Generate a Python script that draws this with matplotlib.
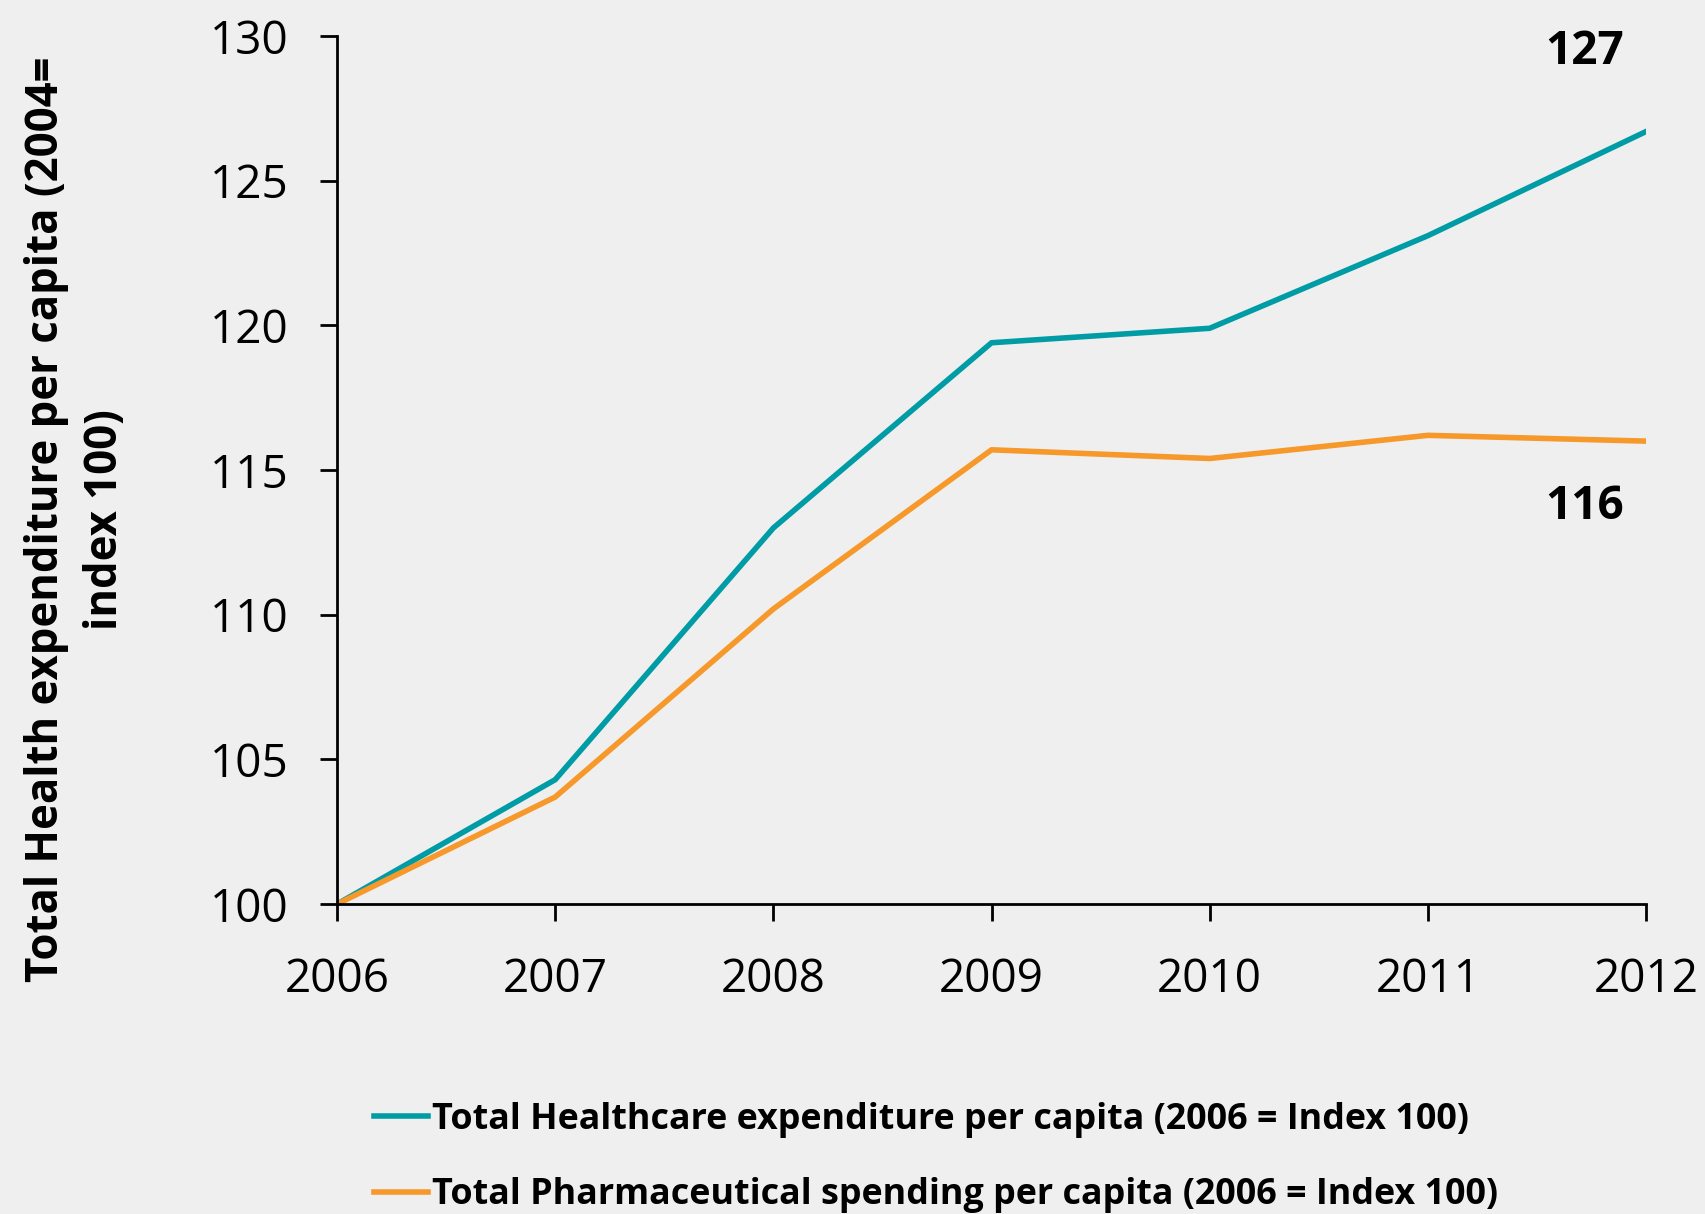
import matplotlib.pyplot as plt

years = [2006, 2007, 2008, 2009, 2010, 2011, 2012]
healthcare = [100, 104.3, 113.0, 119.4, 119.9, 123.1, 126.7]
pharma = [100, 103.7, 110.2, 115.7, 115.4, 116.2, 116.0]
labels = ['Total Healthcare expenditure per capita (2006 = Index 100)',
          'Total Pharmaceutical spending per capita (2006 = Index 100)']
end_labels = ['127', '116']

teal = '#009ca6'
orange = '#f7982a'
bg = '#efefef'

plt.rcParams['font.family'] = ['Open Sans', 'DejaVu Sans']

fig = plt.figure(figsize=(17.05, 12.14), dpi=100, facecolor=bg)
ax = fig.add_axes([0.1977, 0.2553, 0.7677, 0.715])
ax.set_facecolor(bg)

ax.plot(years, healthcare, color=teal, lw=4, label=labels[0])
ax.plot(years, pharma, color=orange, lw=4, label=labels[1])

ax.set_xlim(2006, 2012)
ax.set_ylim(100, 130)
ax.set_xticks(years)
ax.set_yticks(range(100, 131, 5))
for s in ('top', 'right'):
    ax.spines[s].set_visible(False)
for s in ('left', 'bottom'):
    ax.spines[s].set_linewidth(2)
    ax.spines[s].set_color('black')
ax.tick_params(axis='x', direction='out', length=12, width=2, pad=26,
               labelsize=33)
ax.tick_params(axis='y', direction='out', length=12, width=2, pad=23,
               labelsize=33)

# values at the end of each series
ax.text(2011.9, healthcare[-1] + 2.75, end_labels[0], ha='right',
        va='center', fontsize=33, fontweight='bold')
ax.text(2011.9, pharma[-1] - 2.25, end_labels[1], ha='right',
        va='center', fontsize=33, fontweight='bold')

fig.text(0.0446, 0.572, 'Total Health expenditure per capita (2004=\nindex 100)',
         rotation=90, ha='center', va='center', multialignment='center',
         fontsize=31.5, fontweight='bold', linespacing=1.4)

leg = fig.legend(loc='upper left', bbox_to_anchor=(0.2006, 0.119),
                 frameon=False, handlelength=1.5, handletextpad=0.1,
                 labelspacing=1.1, prop={'weight': 'bold', 'size': 25.8})

fig.savefig('out.png', dpi=100, facecolor=bg)
